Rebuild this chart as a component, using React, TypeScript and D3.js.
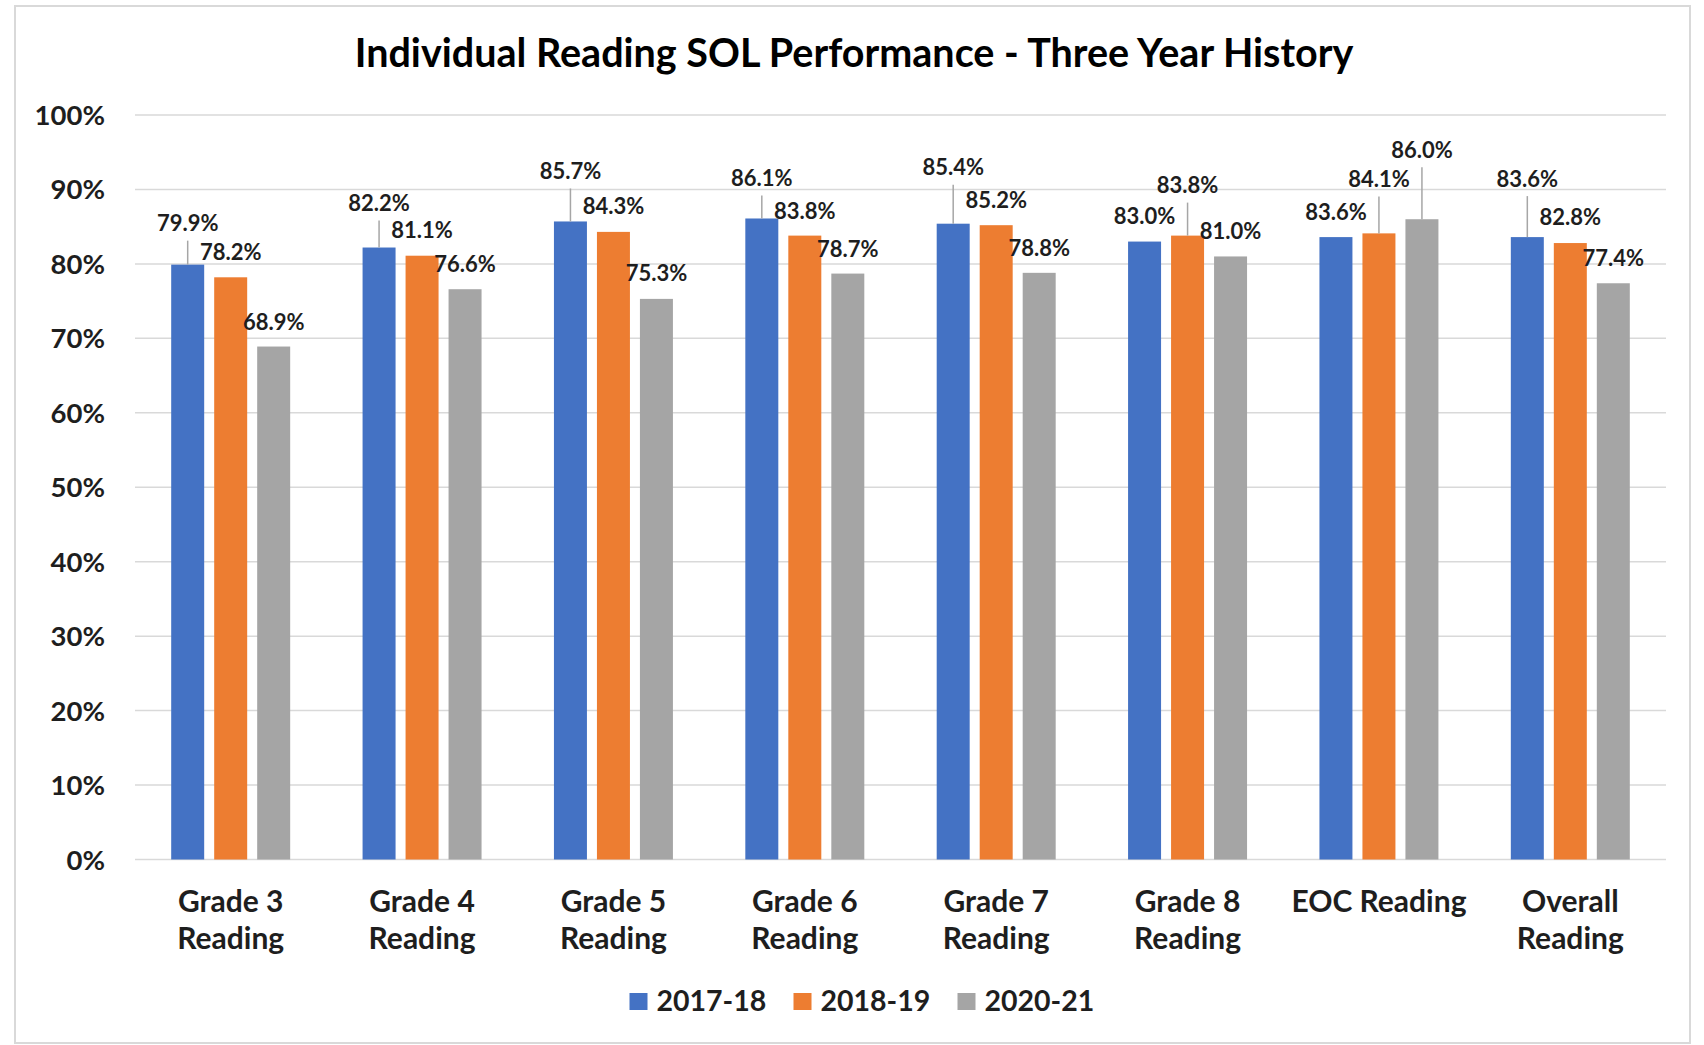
import React from "react";
import * as d3 from "d3";

const categories = [
  "Grade 3\nReading",
  "Grade 4\nReading",
  "Grade 5\nReading",
  "Grade 6\nReading",
  "Grade 7\nReading",
  "Grade 8\nReading",
  "EOC Reading",
  "Overall\nReading",
];
const seriesNames = ["2017-18", "2018-19", "2020-21"];
const values2017 = [79.9, 82.2, 85.7, 86.1, 85.4, 83.0, 83.6, 83.6];
const values2018 = [78.2, 81.1, 84.3, 83.8, 85.2, 83.8, 84.1, 82.8];
const values2020 = [68.9, 76.6, 75.3, 78.7, 78.8, 81.0, 86.0, 77.4];
const yTicks = [0, 10, 20, 30, 40, 50, 60, 70, 80, 90, 100];
const title = "Individual Reading SOL Performance - Three Year History";

// layout: how far (px) each data label center sits above its bar top
const lift2017 = [41, 44, 50, 40, 56, 25, 25, 58];
const lift2018 = [25, 25, 25, 24, 25, 50, 54, 26];
const lift2020 = [24, 25, 25, 24, 24, 25, 69, 25];

const colors = ["#4472C4", "#ED7D31", "#A5A5A5"];
const W = 1704;
const H = 1045;
const FONT = "Lato, 'Open Sans', sans-serif";
const TEXT = "#1e1e1e";

export default function App() {
  const series = [values2017, values2018, values2020];
  const lifts = [lift2017, lift2018, lift2020];

  const y = d3.scaleLinear().domain([0, 100]).range([859.5, 115]);
  const x0 = d3
    .scaleBand<string>()
    .domain(categories)
    .range([135, 1666])
    .paddingInner(0.326)
    .paddingOuter(0.163);
  const x1 = d3
    .scaleBand<string>()
    .domain(seriesNames)
    .range([0, x0.bandwidth()])
    .paddingInner(0.2326)
    .paddingOuter(0.1163);
  const bw = x1.bandwidth();

  const legendItemWidths = [0, 1, 2].map(() => 18 + 9 + 108);
  const legendGap = 29;
  const legendTotal =
    legendItemWidths.reduce((a, b) => a + b, 0) + legendGap * 2;
  const legendStart = 861 - legendTotal / 2;

  return (
    <svg
      width={W}
      height={H}
      style={{ position: "absolute", left: 0, top: 0, background: "#fff" }}
      fontFamily={FONT}
    >
      <rect x={0} y={0} width={W} height={H} fill="#fff" />
      <rect
        x={15}
        y={6}
        width={1675}
        height={1037}
        fill="#fff"
        stroke="#d9d9d9"
        strokeWidth={2}
      />
      <text
        x={854}
        y={67}
        textAnchor="middle"
        fontSize={39.5}
        fontWeight={700}
        fill="#000"
      >
        {title}
      </text>

      {yTicks.map((t) => (
        <g key={t}>
          <line
            x1={135}
            x2={1666}
            y1={y(t)}
            y2={y(t)}
            stroke="#d9d9d9"
            strokeWidth={1.5}
          />
          <text
            x={105}
            y={y(t) + 10}
            textAnchor="end"
            fontSize={27.5}
            fontWeight={700}
            fill={TEXT}
          >
            {t}%
          </text>
        </g>
      ))}

      {categories.map((c, ci) => (
        <g key={c} transform={`translate(${x0(c)},0)`}>
          {series.map((vals, si) => {
            const v = vals[ci];
            const bx = x1(seriesNames[si])!;
            const cx = bx + bw / 2;
            const top = y(v);
            const lift = lifts[si][ci];
            const ly = top - lift;
            return (
              <g key={si}>
                <rect
                  x={bx}
                  y={top}
                  width={bw}
                  height={y(0) - top}
                  fill={colors[si]}
                />
                {lift > 32 && (
                  <line
                    x1={cx}
                    x2={cx}
                    y1={top}
                    y2={ly + 17}
                    stroke="#a6a6a6"
                    strokeWidth={1.5}
                  />
                )}
                <text
                  x={cx}
                  y={ly + 7.5}
                  textAnchor="middle"
                  fontSize={22}
                  fontWeight={700}
                  fill={TEXT}
                >
                  {v.toFixed(1)}%
                </text>
              </g>
            );
          })}
          {c.split("\n").map((line, li) => (
            <text
              key={li}
              x={x0.bandwidth() / 2}
              y={912 + li * 37}
              textAnchor="middle"
              fontSize={30}
              fontWeight={700}
              fill={TEXT}
            >
              {line}
            </text>
          ))}
        </g>
      ))}

      {seriesNames.map((s, i) => {
        const lx =
          legendStart +
          legendItemWidths.slice(0, i).reduce((a, b) => a + b, 0) +
          legendGap * i;
        return (
          <g key={s}>
            <rect x={lx} y={993} width={18} height={17} fill={colors[i]} />
            <text
              x={lx + 27}
              y={1011}
              fontSize={28.5}
              fontWeight={700}
              fill={TEXT}
            >
              {s}
            </text>
          </g>
        );
      })}
    </svg>
  );
}
